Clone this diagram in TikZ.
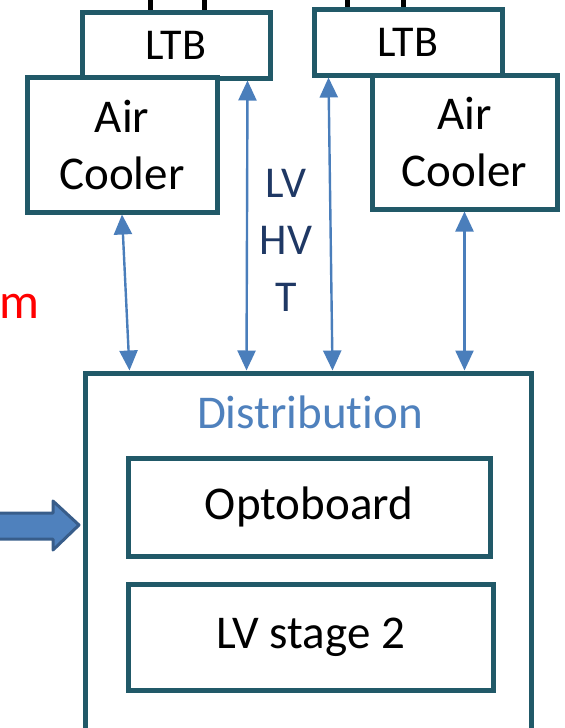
\documentclass[tikz,border=0pt]{standalone}
\usepackage{fontspec}
\setmainfont{Carlito}[Ligatures=NoCommon]
\usepackage{xcolor}
\usetikzlibrary{arrows.meta,positioning,calc}
\definecolor{boxteal}{RGB}{33,89,104}
\definecolor{linkblue}{RGB}{74,126,187}
\definecolor{navytext}{RGB}{31,56,100}
\definecolor{feedfill}{RGB}{79,129,189}
\definecolor{feeddraw}{RGB}{56,93,138}

\begin{document}
\begin{tikzpicture}[x=0.5pt, y=-0.5pt,
    unit/.style={rectangle, draw=boxteal, line width=2.5pt, fill=white, align=center,
                 font=\fontsize{23.5}{28.5}\selectfont},
    link/.style={draw=linkblue, line width=1.2pt,
                 {Triangle[width=9pt,length=10pt]}-{Triangle[width=9pt,length=10pt]}},
    stub/.style={draw=black, line width=2.5pt}
]
    \useasboundingbox (0,0) rectangle (564,728);
    \clip (0,0) rectangle (564,728);

    % Top units
    \node[unit, minimum width=94pt, minimum height=33pt, font=\fontsize{22}{26}\selectfont] (lltb) at (176,45) {LTB};
    \node[unit, minimum width=94pt, minimum height=33pt, font=\fontsize{22}{26}\selectfont] (rltb) at (408,42) {LTB};
    \node[unit, minimum width=95pt, minimum height=67.5pt] (lac) at (122,144.5) {Air\\Cooler};
    \node[unit, minimum width=92.5pt, minimum height=67pt] (rac) at (464.5,142) {Air\\Cooler};

    % Cable stubs
    \draw[stub] ($(lltb.north west)+(71,0)$) -- ++(0,-20);
    \draw[stub] ($(lltb.north west)+(125,0)$) -- ++(0,-20);
    \draw[stub] ($(rltb.north west)+(36,0)$) -- ++(0,-20);
    \draw[stub] ($(rltb.north west)+(92,0)$) -- ++(0,-20);

    % Distribution
    \node[unit, minimum width=223pt, minimum height=203.5pt] (dist) at (308,576.5) {};
    \node[font=\fontsize{23.5}{28.5}\selectfont, text=feedfill] (disttitle) at (310,412) {Distribution};
    \node[unit, minimum width=181pt, minimum height=49pt] (opto) at (309,507) {Optoboard};
    \node[unit, minimum width=182.5pt, minimum height=53pt] (lvst) at (310.5,637) {LV stage 2};

    % Links
    \draw[link] (lac.south) -- ($(dist.north west)+(47,0)$);
    \draw[link] ($(lltb.south east)+(-25,0)$) -- ($(dist.north west)+(164,0)$);
    \draw[link] ($(rltb.south west)+(17,0)$) -- ($(dist.north west)+(250,0)$);
    \draw[link] (rac.south) -- (rac.south |- dist.north);
    \node[font=\fontsize{22}{28.5}\selectfont, text=navytext, align=center] (lvhvt) at (286,240) {LV\\HV\\T};

    % Feed arrow and side label
    \draw[fill=feedfill, draw=feeddraw, line width=1.5pt, line join=round]
        (-10,513) -- (53,513) -- (53,501) -- (79,525) -- (53,550) -- (53,539) -- (-10,539) -- cycle;
    \node[anchor=base east, text=red, font=\fontsize{25}{30}\selectfont, inner sep=0pt] (sidelbl) at (40,318) {m};
\end{tikzpicture}
\end{document}
